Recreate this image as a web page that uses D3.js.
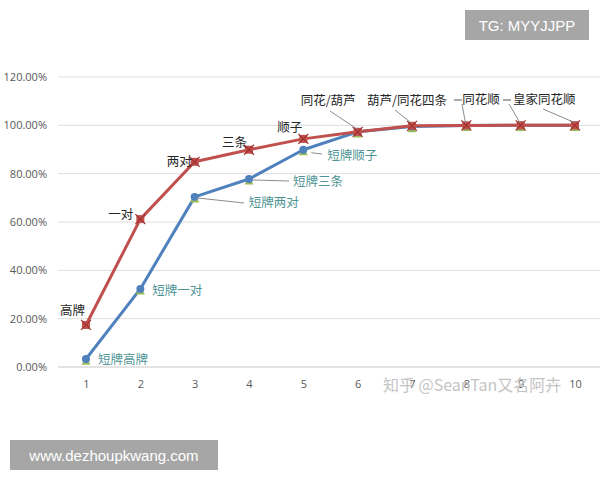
<!DOCTYPE html>
<html><head><meta charset="utf-8">
<script src="https://cdn.jsdelivr.net/npm/d3@7"></script>
<style>body{margin:0;background:#fff;}svg{display:block;}</style>
</head><body>
<svg id="c" width="600" height="480"></svg>
<script>
const categories = [1,2,3,4,5,6,7,8,9,10];
const fullDeck = [0.174, 0.612, 0.849, 0.899, 0.944, 0.973, 0.998, 0.9997, 0.9999, 1.0];
const shortDeck = [0.033, 0.323, 0.704, 0.778, 0.899, 0.973, 0.995, 0.9997, 0.9999, 1.0];
const yTicks = [0, 0.2, 0.4, 0.6, 0.8, 1.0, 1.2];
const fullLabels = ["高牌","一对","两对","三条","顺子","同花/葫芦","葫芦/同花四条","同花顺","","皇家同花顺"];
const shortLabels = ["短牌高牌","短牌一对","短牌两对","短牌三条","短牌顺子"];

const svg = d3.select("#c");
const x = d3.scalePoint().domain(categories).range([86, 575]);
const y = d3.scaleLinear().domain([0, 1.2]).range([367, 77]);

// gridlines
svg.append("g").selectAll("line").data(yTicks).join("line")
  .attr("x1", 58).attr("x2", 600)
  .attr("y1", d => y(d)).attr("y2", d => y(d))
  .attr("stroke", d => d === 0 ? "#c8c8c8" : "#dedede").attr("stroke-width", 1);

// y axis labels
const yAxis = d3.axisLeft(y).tickValues(yTicks).tickSize(0).tickPadding(0)
  .tickFormat(d => (d*100).toFixed(2) + "%");
const ya = svg.append("g").attr("transform", "translate(47,0)").call(yAxis);
ya.select(".domain").remove();
ya.selectAll("text").attr("fill", "#595959").style("font-family", "'Open Sans', 'Liberation Sans', sans-serif").style("font-size", "11px");

// x axis labels
const xAxis = d3.axisBottom(x).tickSize(0).tickPadding(0);
const xa = svg.append("g").attr("transform", "translate(0,380)").call(xAxis);
xa.select(".domain").remove();
xa.selectAll("text").attr("fill", "#595959").style("font-family", "'Open Sans', 'Liberation Sans', sans-serif").style("font-size", "11px");

const red = "#c0504d", blue = "#4f81bd", green = "#9bbb59";
const line = d3.line().x((d,i) => x(categories[i])).y(d => y(d));

// blue line
svg.append("path").datum(shortDeck).attr("d", line)
  .attr("fill", "none").attr("stroke", blue).attr("stroke-width", 3).attr("stroke-linejoin", "round");
// green triangles
svg.append("g").selectAll("path").data(shortDeck).join("path")
  .attr("d", d3.symbol().type(d3.symbolTriangle).size(36))
  .attr("transform", (d,i) => `translate(${x(categories[i])},${y(d)+3})`)
  .attr("fill", green);
// blue markers
svg.append("g").selectAll("path").data(shortDeck).join("path")
  .attr("d", d3.symbol().type(d3.symbolCircle).size(50))
  .attr("transform", (d,i) => `translate(${x(categories[i])},${y(d)})`)
  .attr("fill", blue);

// red line
svg.append("path").datum(fullDeck).attr("d", line)
  .attr("fill", "none").attr("stroke", red).attr("stroke-width", 3).attr("stroke-linejoin", "round");
// red markers: square with x
const rm = svg.append("g").selectAll("g").data(fullDeck).join("g")
  .attr("transform", (d,i) => `translate(${x(categories[i])},${y(d)})`);
rm.append("rect").attr("x", -4).attr("y", -4).attr("width", 8).attr("height", 8).attr("fill", red);
rm.append("path").attr("d", "M-5,-5L5,5M-5,5L5,-5").attr("stroke", "#a0302d").attr("stroke-width", 1.2);

// leader lines for full deck labels: [fromX, fromY, category index]
const leaderColor = "#8c8c8c";
const leaders = [
  [330, 111, 5],
  [395, 110, 6],
  [462, 104, 7],
  [509, 104, 8],
  [543, 109, 9]
];
svg.append("g").selectAll("line").data(leaders).join("line")
  .attr("x1", d => d[0]).attr("y1", d => d[1])
  .attr("x2", d => x(categories[d[2]]) - 1).attr("y2", d => y(fullDeck[d[2]]) - 3)
  .attr("stroke", leaderColor).attr("stroke-width", 1);
// dashes before labels
svg.append("line").attr("x1", 454).attr("x2", 462).attr("y1", 100).attr("y2", 100).attr("stroke", "#555").attr("stroke-width", 1);
svg.append("line").attr("x1", 503).attr("x2", 511).attr("y1", 100).attr("y2", 100).attr("stroke", "#555").attr("stroke-width", 1);

// short deck leaders
svg.append("line").attr("x1", x(3)+2).attr("y1", y(shortDeck[2])+1).attr("x2", 244).attr("y2", 203).attr("stroke", leaderColor);
svg.append("line").attr("x1", x(4)+4).attr("y1", y(shortDeck[3])+1).attr("x2", 289).attr("y2", 181).attr("stroke", leaderColor);
svg.append("line").attr("x1", x(5)+8).attr("y1", y(shortDeck[4])+3).attr("x2", 322).attr("y2", 154).attr("stroke", leaderColor);

const lblFont = "'Noto Sans CJK SC', sans-serif";
// full deck label offsets from their points
const fullPos = [
  [-26, -10], [-32, 0], [-28, 4], [-27, -3], [-26, -7], [-57, -27], [-45, -21], [-4, -21], [0, 0], [-62, -21]
];
svg.append("g").selectAll("text").data(fullLabels).join("text")
  .attr("x", (d,i) => x(categories[i]) + fullPos[i][0])
  .attr("y", (d,i) => y(fullDeck[i]) + fullPos[i][1])
  .attr("fill", "#262626").style("font-family", lblFont).style("font-size", "12.5px")
  .text(d => d);

const shortPos = [[12, 5], [12, 6], [54, 10], [44, 7], [24, 10]];
svg.append("g").selectAll("text").data(shortLabels).join("text")
  .attr("x", (d,i) => x(categories[i]) + shortPos[i][0])
  .attr("y", (d,i) => y(shortDeck[i]) + shortPos[i][1])
  .attr("fill", "#4e9494").style("font-family", lblFont).style("font-size", "12.5px")
  .text(d => d);

// watermark
svg.append("text").attr("x", 383).attr("y", 391).attr("fill", "#c4c4c4")
  .style("font-family", lblFont).style("font-size", "16px").text("知乎 @SeanTan又名阿卉");

// boxes
svg.append("rect").attr("x", 465).attr("y", 10).attr("width", 124).attr("height", 30).attr("fill", "#a6a6a6");
svg.append("text").attr("x", 527).attr("y", 31).attr("text-anchor", "middle").attr("fill", "#fff")
  .style("font-family", "'Liberation Sans', Arial, sans-serif").style("font-size", "15px").text("TG: MYYJJPP");
svg.append("rect").attr("x", 10).attr("y", 440).attr("width", 208).attr("height", 30).attr("fill", "#a6a6a6");
svg.append("text").attr("x", 114).attr("y", 461).attr("text-anchor", "middle").attr("fill", "#fff")
  .style("font-family", "'Liberation Sans', Arial, sans-serif").style("font-size", "15px").text("www.dezhoupkwang.com");
</script>
</body></html>
